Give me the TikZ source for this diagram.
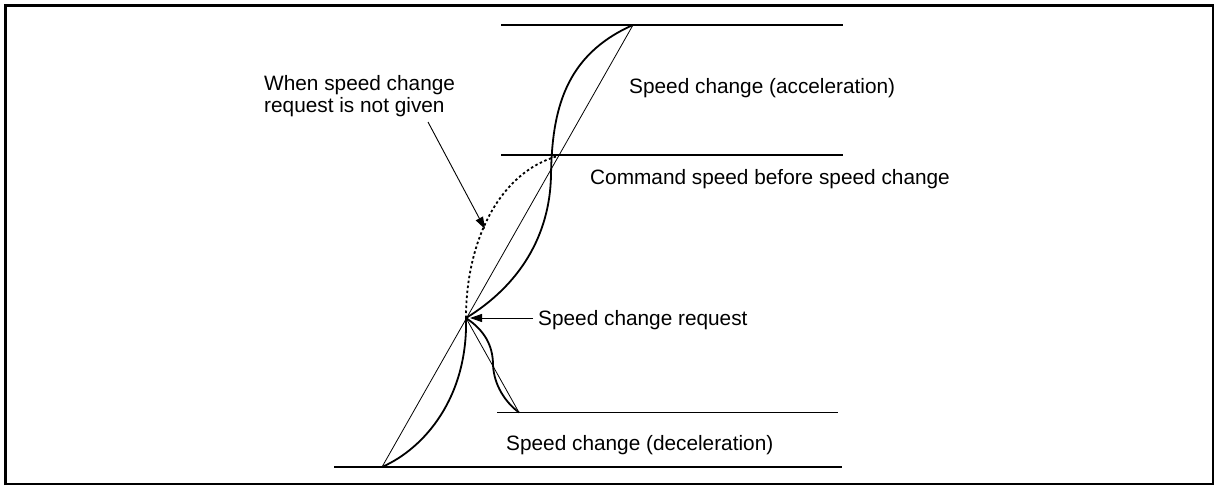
\documentclass[tikz,border=0pt]{standalone}
\usepackage{fontspec}
\setmainfont{Liberation Sans}
\usetikzlibrary{arrows.meta}
\begin{document}
\begin{tikzpicture}[x=1pt,y=-1pt,
  frameA/.style={line width=3pt},
  frameB/.style={line width=1.7pt},
  guide/.style={line width=1.3pt},
  chord/.style={line width=0.8pt},
  curve/.style={line width=1.8pt},
  nogiven/.style={line width=1.8pt, dash pattern=on 2.5pt off 2.5pt},
  lbl/.style={font=\fontsize{20.8}{22.5}\selectfont, inner sep=0pt},
  pointer/.style={line width=0.9pt, -{Triangle[length=12pt,width=8pt]}}]
\useasboundingbox (0,0) rectangle (1214,485);
% frame
\coordinate (f1) at (5.5,485);
\coordinate (f2) at (5.5,5.5);
\coordinate (f3) at (1214,5.5);
\coordinate (f4) at (1213.2,5.5);
\coordinate (f5) at (1213.2,484.2);
\coordinate (f6) at (4,484.2);
\draw[frameA] (f1) -- (f2) -- (f3);
\draw[frameB] (f4) -- (f5) -- (f6);
% guide lines
\coordinate (aL) at (501,25);  \coordinate (aR) at (843,25);
\coordinate (cL) at (501,155); \coordinate (cR) at (843,155);
\coordinate (dL) at (497,412.5); \coordinate (dR) at (838,412.5);
\coordinate (bL) at (334,467); \coordinate (bR) at (842,467);
\draw[guide] (aL) -- (aR);
\draw[guide] (cL) -- (cR);
\draw[guide] (dL) -- (dR);
\draw[guide] (bL) -- (bR);
% key points
\coordinate (B) at (382,467);
\coordinate (R) at (466,318);
\coordinate (T) at (633,25);
\coordinate (D) at (519,412.5);
\coordinate (M) at (558,156);
\coordinate (V) at (551,175);
\coordinate (S) at (493,365);
% chords
\draw[chord] (B) -- (T);
\draw[chord] (R) -- (D);
% curves
\draw[curve] (B) .. controls (425,448) and (468,397) .. (R);
\draw[curve] (R) .. controls (520,285) and (550,235) .. (V)
  .. controls (552,110) and (565,55) .. (T);
\draw[curve] (R) .. controls (484,330) and (493,345) .. (S)
  .. controls (494,385) and (505,402) .. (D);
\draw[nogiven] (R) .. controls (466,240) and (500,172) .. (M);
% labels
\node[lbl, anchor=base west] (acc) at (629,93) {Speed change (acceleration)};
\node[lbl, anchor=base west] (cmd) at (590,184) {Command speed before speed change};
\node[lbl, anchor=base west] (rq) at (538,325) {Speed change request};
\node[lbl, anchor=base west] (dec) at (506,450) {Speed change (deceleration)};
\node[lbl, anchor=north west, align=left] (ng) at (264,75) {When speed change\\request is not given};
% pointers
\coordinate (rqs) at (533,318);
\coordinate (rqt) at (470,318);
\coordinate (ngs) at (428,122);
\coordinate (ngt) at (485,229);
\draw[pointer] (rqs) -- (rqt);
\draw[pointer] (ngs) -- (ngt);
\end{tikzpicture}
\end{document}
